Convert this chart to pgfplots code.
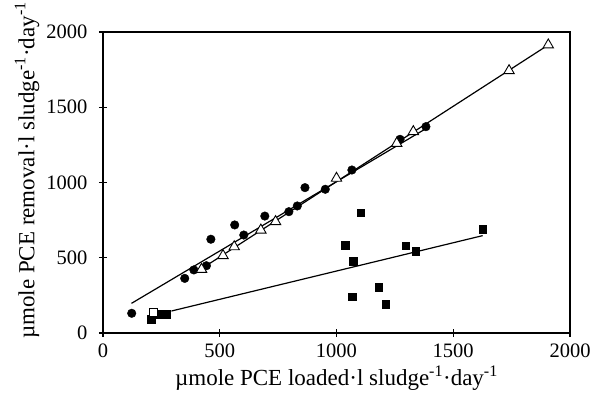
\documentclass[border=0pt]{standalone}
\usepackage{fontspec}
\setmainfont{Liberation Serif}
\usepackage{pgfplots}
\pgfplotsset{compat=1.18}
\begin{document}
\begin{tikzpicture}
\begin{axis}[
  at={(0,0)}, anchor=origin,
  scale only axis, width=467pt, height=301pt,
  xmin=0, xmax=2000, ymin=0, ymax=2000,
  xtick={0,500,1000,1500,2000}, ytick={0,500,1000,1500,2000},
  axis x line*=bottom, axis y line*=left,
  axis line style={line width=1.3pt, -},
  tick align=center, major tick length=8pt,
  tick style={line width=1.1pt, black},
  /pgf/number format/assume math mode=true,
  /pgf/number format/set thousands separator={},
  ticklabel style={font=\fontsize{20.5}{24}\selectfont},
  xticklabel style={yshift=-3pt},
  yticklabel style={xshift=-8pt},
  label style={font=\fontsize{23}{27}\selectfont},
  xlabel={µmole PCE loaded·l sludge\textsuperscript{-1}·day\textsuperscript{-1}},
  ylabel={µmole PCE removal·l sludge\textsuperscript{-1}·day\textsuperscript{-1}},
  xlabel style={at={([yshift=-45pt]axis description cs:0.5,0)}, anchor=center},
  ylabel style={at={([xshift=-76pt]axis description cs:0,0.54)}, anchor=center},
  clip=false,
]
% border lines top/right
\draw[line width=1.3pt] (axis cs:0,2000) -- (axis cs:2000,2000) -- (axis cs:2000,0);
% regression lines
\addplot[black, line width=1.2pt] coordinates {(122,197) (1383,1358)};
\addplot[black, line width=1.2pt] coordinates {(400,405) (1907,1914)};
\addplot[black, line width=1.2pt] coordinates {(293,146) (1626,647)};
% circles
\addplot[only marks, mark=*, mark size=4.3pt, black] coordinates {
(123,131) (350,363) (389,419) (443,447) (462,623) (564,718) (603,651)
(693,777) (796,806) (832,844) (865,966) (952,955) (1066,1083) (1272,1287) (1383,1371)};
% triangles
\addplot[only marks, mark=triangle*, mark size=6pt, black, fill=white, line width=0.9pt] coordinates {
(422,423) (514,514) (562,573) (676,684) (739,740) (1000,1028) (1258,1260) (1329,1338) (1739,1743) (1907,1914)};
% squares
\addplot[only marks, mark=square*, mark size=3.8pt, black] coordinates {
(207,91) (236,124) (272,124) (1036,585) (1072,478) (1103,799) (1067,241) (1180,306) (1210,193) (1297,580) (1339,545) (1626,691)};
\addplot[only marks, mark=square*, mark size=3.8pt, black, fill=white, line width=0.9pt] coordinates {(215,135)};
\end{axis}
\pgfresetboundingbox
\path (-103pt,-63pt) rectangle (492pt,333pt);
\end{tikzpicture}
\end{document}
